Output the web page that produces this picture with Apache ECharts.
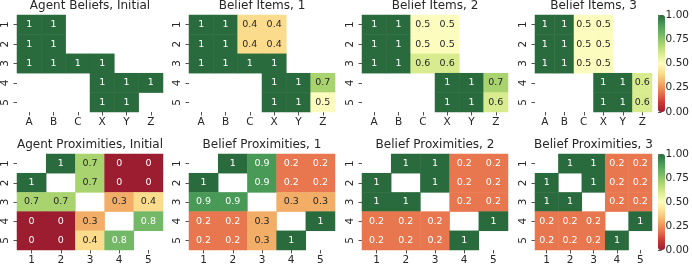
<!DOCTYPE html>
<html><head><meta charset="utf-8">
<script src="https://cdn.jsdelivr.net/npm/echarts@6/dist/echarts.min.js"></script>
<style>html,body{margin:0;padding:0;background:#fff}#c{width:692px;height:267px}</style>
</head><body><div id="c"></div>
<script>
const itemCols = ['A','B','C','X','Y','Z'];
const agentCols = ['1','2','3','4','5'];
const rowLabels = ['1','2','3','4','5'];
const colorbarTicks = [0, 0.25, 0.5, 0.75, 1];

const titles = ['Agent Beliefs, Initial','Belief Items, 1','Belief Items, 2','Belief Items, 3',
  'Agent Proximities, Initial','Belief Proximities, 1','Belief Proximities, 2','Belief Proximities, 3'];

const agentBeliefsInitial = [
  [1,1,null,null,null,null],
  [1,1,null,null,null,null],
  [1,1,1,1,null,null],
  [null,null,null,1,1,1],
  [null,null,null,1,1,null]
];
const beliefItems1 = [
  [1,1,0.4,0.4,null,null],
  [1,1,0.4,0.4,null,null],
  [1,1,1,1,null,null],
  [null,null,null,1,1,0.7],
  [null,null,null,1,1,0.5]
];
const beliefItems2 = [
  [1,1,0.5,0.5,null,null],
  [1,1,0.5,0.5,null,null],
  [1,1,0.6,0.6,null,null],
  [null,null,null,1,1,0.7],
  [null,null,null,1,1,0.6]
];
const beliefItems3 = [
  [1,1,0.5,0.5,null,null],
  [1,1,0.5,0.5,null,null],
  [1,1,0.5,0.5,null,null],
  [null,null,null,1,1,0.6],
  [null,null,null,1,1,0.6]
];
const agentProxInitial = [
  [null,1,0.7,0,0],
  [1,null,0.7,0,0],
  [0.7,0.7,null,0.3,0.4],
  [0,0,0.3,null,0.8],
  [0,0,0.4,0.8,null]
];
const beliefProx1 = [
  [null,1,0.9,0.2,0.2],
  [1,null,0.9,0.2,0.2],
  [0.9,0.9,null,0.3,0.3],
  [0.2,0.2,0.3,null,1],
  [0.2,0.2,0.3,1,null]
];
const beliefProx2 = [
  [null,1,1,0.2,0.2],
  [1,null,1,0.2,0.2],
  [1,1,null,0.2,0.2],
  [0.2,0.2,0.2,null,1],
  [0.2,0.2,0.2,1,null]
];
const beliefProx3 = [
  [null,1,1,0.2,0.2],
  [1,null,1,0.2,0.2],
  [1,1,null,0.2,0.2],
  [0.2,0.2,0.2,null,1],
  [0.2,0.2,0.2,1,null]
];

const matrices = [agentBeliefsInitial, beliefItems1, beliefItems2, beliefItems3,
  agentProxInitial, beliefProx1, beliefProx2, beliefProx3];

// muted RdYlGn stops (0.0 .. 1.0 step 0.1)
const palette = ['#9c1d30','#cb3a30','#e8774f','#f2ad67','#fbdc8d','#fdfcbf','#d8ec8f','#a9d36f','#72b866','#4a9a57','#2a6b3d'];

const FONT = 'DejaVu Sans';
const TXT = '#262626';
const panelX = [[17,146],[189,146],[362,146],[535,117]];
const rowY = [[15,97],[154,96]];

const grids = [], xAxes = [], yAxes = [], series = [], graphics = [];
for (let p = 0; p < 8; p++) {
  const r = Math.floor(p / 4), c = p % 4;
  const [gx, gw] = panelX[c];
  const [gy, gh] = rowY[r];
  grids.push({left: gx, top: gy, width: gw, height: gh, containLabel: false});
  const cols = r === 0 ? itemCols : agentCols;
  xAxes.push({type:'category', gridIndex:p, data: cols, position:'bottom',
    axisLine:{show:false}, splitLine:{show:false},
    axisTick:{show:true, alignWithLabel:true, length:3.5, lineStyle:{color:TXT, width:0.8}},
    axisLabel:{fontFamily:FONT, fontSize:10.5, color:TXT, margin:5}});
  yAxes.push({type:'category', gridIndex:p, data: rowLabels, inverse:true,
    axisLine:{show:false}, splitLine:{show:false},
    axisTick:{show:true, alignWithLabel:true, length:3.5, lineStyle:{color:TXT, width:0.8}},
    axisLabel:{fontFamily:FONT, fontSize:10.5, color:TXT, rotate:90, margin:6}});
  const m = matrices[p];
  const data = [];
  m.forEach((row, yi) => row.forEach((v, xi) => {
    if (v === null) return;
    const dark = v > 0.25 && v < 0.75;
    data.push({value:[xi, yi, v], label:{color: dark ? TXT : '#ffffff'}});
  }));
  series.push({type:'heatmap', xAxisIndex:p, yAxisIndex:p, data,
    itemStyle:{borderWidth:0},
    label:{show:true, fontFamily:FONT, fontSize:9.5, formatter: d => String(d.value[2])},
    emphasis:{disabled:true}});
  graphics.push({type:'text', x: gx + gw/2, y: r === 0 ? 5.5 : 144.5,
    style:{text: titles[p], x:0, y:0, textAlign:'center', textVerticalAlign:'middle',
      font: '12px "DejaVu Sans"', fill: TXT}});
}
for (let r = 0; r < 2; r++) {
  const [gy, gh] = rowY[r];
  const gi = grids.length;
  grids.push({left: 658, top: gy, width: 7, height: gh});
  xAxes.push({type:'value', gridIndex:gi, show:false, min:0, max:1});
  yAxes.push({type:'value', gridIndex:gi, position:'right', min:0, max:1, interval:0.25,
    axisLine:{show:false}, splitLine:{show:false},
    axisTick:{show:true, length:3.5, lineStyle:{color:TXT, width:0.8}},
    axisLabel:{fontFamily:FONT, fontSize:10.5, color:TXT, margin:4,
      formatter: v => colorbarTicks.includes(v) ? v.toFixed(2) : ''}});
}

const visualMaps = [0,1].map(r => ({
  type:'continuous', min:0, max:1, dimension:2, seriesIndex: r === 0 ? [0,1,2,3] : [4,5,6,7],
  inRange:{color: palette}, calculable:false, realtime:false, hoverLink:false,
  left: 658, top: rowY[r][0], itemWidth: 7, itemHeight: rowY[r][1], padding:0,
  text: null, showLabel:false, orient:'vertical'
}));

const chart = echarts.init(document.getElementById('c'), null, {renderer:'canvas'});
chart.setOption({
  animation:false,
  grid: grids, xAxis: xAxes, yAxis: yAxes, series, visualMap: visualMaps,
  graphic: graphics
});
</script></body></html>
